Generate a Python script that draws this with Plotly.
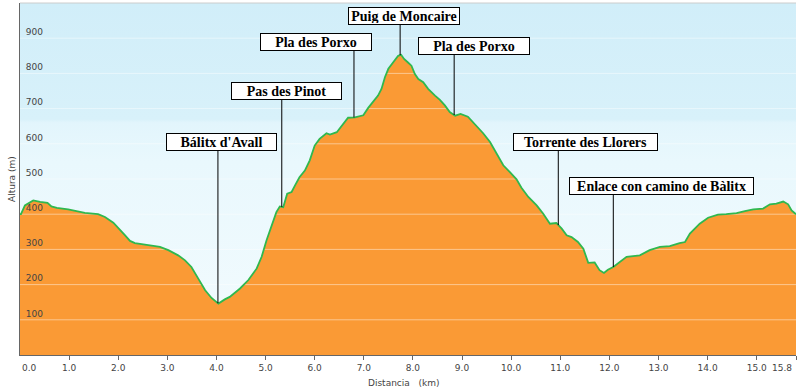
import numpy as np
import plotly.graph_objects as go

# ---- data ----
dist_km = [0.0, 0.02, 0.1, 0.27, 0.41, 0.56, 0.64, 0.75, 0.98, 1.19, 1.32, 1.59, 1.73, 1.9, 2.04,
           2.14, 2.24, 2.34, 2.51, 2.68, 2.85, 3.02, 3.22, 3.36, 3.49, 3.63, 3.77, 3.9, 4.04, 4.17,
           4.27, 4.48, 4.65, 4.82, 4.92, 5.02, 5.12, 5.22, 5.29, 5.36, 5.44, 5.53, 5.6, 5.69, 5.8,
           5.9, 6.0, 6.1, 6.24, 6.31, 6.45, 6.58, 6.68, 6.82, 6.99, 7.09, 7.19, 7.29, 7.36, 7.43,
           7.5, 7.57, 7.63, 7.7, 7.76, 7.82, 7.9, 7.97, 8.04, 8.11, 8.21, 8.31, 8.45, 8.55, 8.65,
           8.75, 8.86, 8.97, 9.12, 9.23, 9.33, 9.43, 9.57, 9.7, 9.84, 9.97, 10.11, 10.21, 10.35,
           10.52, 10.65, 10.79, 10.92, 11.03, 11.13, 11.23, 11.36, 11.47, 11.57, 11.7, 11.8, 11.89,
           11.97, 12.08, 12.21, 12.35, 12.62, 12.82, 13.03, 13.23, 13.43, 13.54, 13.64, 13.7, 13.84,
           14.01, 14.21, 14.38, 14.59, 14.76, 14.93, 15.13, 15.27, 15.4, 15.54, 15.64, 15.71, 15.8]
altura_m = [400, 400, 425, 439, 435, 432, 422, 418, 414, 407, 404, 400, 392, 376, 356,
            340, 324, 318, 314, 310, 307, 298, 283, 269, 250, 217, 184, 162, 146, 158,
            165, 189, 213, 246, 279, 326, 364, 406, 422, 420, 458, 463, 482, 505, 524,
            553, 595, 614, 630, 626, 633, 657, 674, 675, 681, 702, 718, 737, 756, 789,
            813, 827, 836, 850, 853, 841, 831, 822, 798, 784, 775, 756, 737, 725, 709,
            690, 680, 685, 677, 661, 645, 630, 605, 572, 539, 520, 499, 475, 449,
            425, 402, 373, 375, 359, 340, 335, 321, 302, 262, 263, 241, 233,
            242, 250, 265, 279, 283, 298, 307, 309, 318, 321, 345, 354, 373,
            390, 399, 400, 403, 409, 414, 416, 428, 430, 436, 428, 411, 400]

x_tickvals = [0, 1, 2, 3, 4, 5, 6, 7, 8, 9, 10, 11, 12, 13, 14, 15, 15.8]
x_ticktext = ["0.0", "1.0", "2.0", "3.0", "4.0", "5.0", "6.0", "7.0", "8.0", "9.0", "10.0",
              "11.0", "12.0", "13.0", "14.0", "15.0", "15.8"]
y_tickvals = [100, 200, 300, 400, 500, 600, 700, 800, 900]
y_ticktext = ["100", "200", "300", "400", "500", "600", "700", "800", "900"]

# waypoint labels
wp_names = ["Bálitx d'Avall", "Pas des Pinot", "Pla des Porxo", "Puig de Moncaire",
            "Pla des Porxo", "Torrente des Llorers", "Enlace con camino de Bàlitx"]
wp_km = [4.03, 5.33, 6.80, 7.74, 8.84, 10.96, 12.08]
label_km = [4.10, 5.43, 6.03, 7.82, 9.24, 11.51, 13.06]
label_alt = [604, 751, 889, 964, 879, 605, 481]
label_w = [111, 111, 112, 112, 112, 145, 185]

X_MAX = 15.8
Y_MAX = 1000

fig = go.Figure()

# background gradient
fig.add_trace(go.Scatter(
    x=[0, X_MAX, X_MAX, 0, 0], y=[0, 0, Y_MAX, Y_MAX, 0], fill="toself",
    mode="none", hoverinfo="skip", showlegend=False,
    fillgradient=dict(type="vertical",
                      colorscale=[[0, "#f3fbfe"], [0.55, "#e9f8fd"], [0.66, "#e2f5fc"],
                                  [0.67, "#d8f1fa"], [1, "#d1eef9"]]),
))

# orange area
fig.add_trace(go.Scatter(
    x=dist_km, y=altura_m, fill="tozeroy", fillcolor="#fa9a35",
    mode="none", hoverinfo="skip", showlegend=False))

# light grid over the area
for v in y_tickvals:
    fig.add_trace(go.Scatter(
        x=[0, X_MAX], y=[v, v], mode="lines",
        line=dict(color="rgba(255,255,255,0.45)", width=1),
        hoverinfo="skip", showlegend=False))

# profile line
fig.add_trace(go.Scatter(
    x=dist_km, y=altura_m, mode="lines",
    line=dict(color="#2fb84f", width=1.8), hoverinfo="skip", showlegend=False))

# waypoint leader lines
wp_alt = np.interp(wp_km, dist_km, altura_m)
for k, a, ly in zip(wp_km, wp_alt, label_alt):
    fig.add_trace(go.Scatter(
        x=[k, k], y=[a, ly], mode="lines",
        line=dict(color="#000000", width=1), hoverinfo="skip", showlegend=False))

annotations = []
for name, lx, ly, w in zip(wp_names, label_km, label_alt, label_w):
    annotations.append(dict(
        x=lx, y=ly, xref="x", yref="y", text="<b>" + name + "</b>", showarrow=False,
        font=dict(family="Liberation Serif", size=14, color="#000000"),
        bgcolor="#ffffff", bordercolor="#000000", borderwidth=1, borderpad=1,
        width=w - 4, height=14, align="center", xanchor="center", yanchor="middle"))

tick_font = dict(family="DejaVu Sans", size=9, color="#444444")
# end tick labels kept inside the plot width
annotations.append(dict(
    x=x_tickvals[0], y=0, xref="x", yref="paper", text=x_ticktext[0], showarrow=False,
    xanchor="left", yanchor="top", yshift=-6, xshift=0, font=tick_font))
annotations.append(dict(
    x=x_tickvals[-1], y=0, xref="x", yref="paper", text=x_ticktext[-1], showarrow=False,
    xanchor="right", yanchor="top", yshift=-6, xshift=-2, font=tick_font))

annotations.append(dict(
    x=0, y=0.5, xref="paper", yref="paper", text="Altura (m)", textangle=-90,
    showarrow=False, xshift=-8, xanchor="center", yanchor="middle",
    font=dict(family="DejaVu Sans", size=9, color="#444444")))
annotations.append(dict(
    x=0.5, y=0, xref="paper", yref="paper", text="Distancia\u00a0\u00a0\u00a0(km)",
    showarrow=False, xshift=-5, yshift=-28, xanchor="center", yanchor="middle",
    font=dict(family="DejaVu Sans", size=9, color="#444444")))

mid_text = [""] + x_ticktext[1:-1] + [""]

fig.update_layout(
    width=800, height=391,
    margin=dict(l=20, r=4, t=3, b=36),
    paper_bgcolor="#ffffff", plot_bgcolor="#eaf8fd",
    showlegend=False,
    annotations=annotations,
    shapes=[dict(type="line", xref="paper", yref="paper", x0=0, x1=1, y0=1, y1=1,
                 line=dict(color="#cccccc", width=1))],
    xaxis=dict(range=[0, X_MAX], tickvals=x_tickvals, ticktext=mid_text, automargin=False,
               showgrid=False, zeroline=False, showline=True, linecolor="#666666",
               linewidth=1, ticks="outside", ticklen=4, tickcolor="#666666",
               tickfont=tick_font),
    yaxis=dict(range=[0, Y_MAX], tickvals=y_tickvals, ticktext=y_ticktext, automargin=False,
               showgrid=True, gridcolor="#b9cad2", gridwidth=1, zeroline=False,
               showline=True, linecolor="#666666", linewidth=1, ticks="",
               ticklabelposition="inside top", ticklabelstandoff=4,
               tickfont=tick_font),
)

fig.write_html("out.html", config={"displayModeBar": False},
               post_script="document.body.style.margin='0';document.body.style.overflow='hidden';")
